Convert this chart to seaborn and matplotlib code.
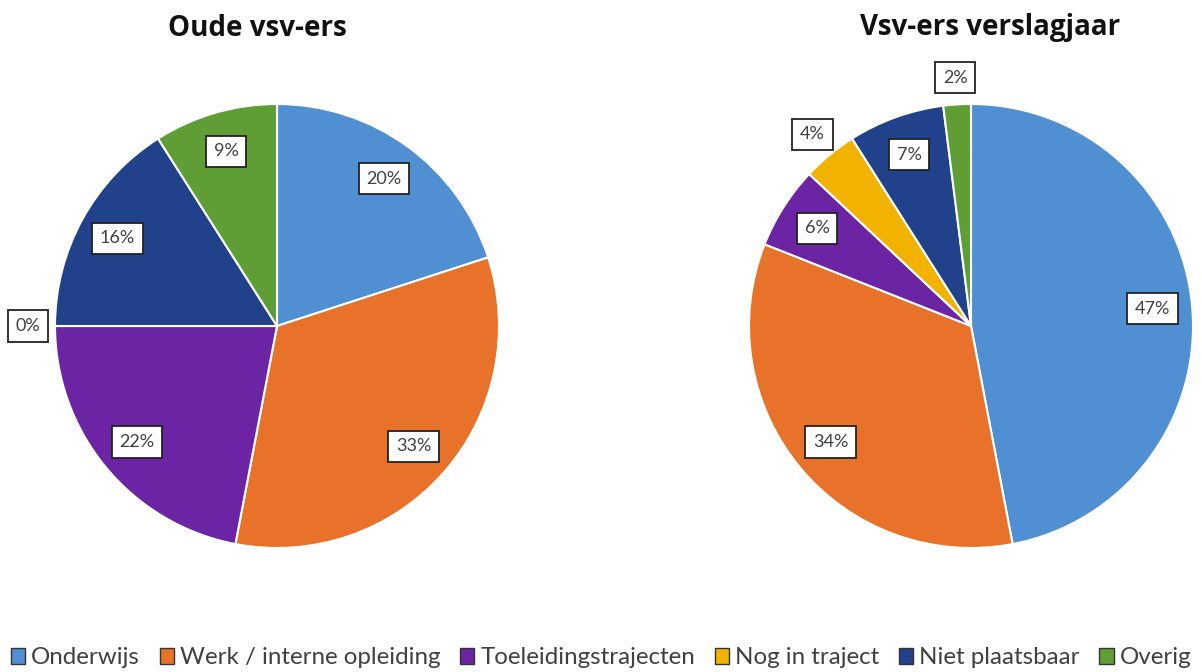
"""
Pie charts: uitstroombestemming oude vsv-ers vs vsv-ers in het verslagjaar.
"""

import matplotlib
matplotlib.use("Agg")
import matplotlib.pyplot as plt
import seaborn as sns
import numpy as np

# Data
categories = ["Onderwijs", "Werk / interne opleiding", "Toeleidingstrajecten",
              "Nog in traject", "Niet plaatsbaar", "Overig"]
oude_vsv = [20, 33, 22, 0, 16, 9]
vsv_verslagjaar = [47, 34, 6, 4, 7, 2]
titles = ["Oude vsv-ers", "Vsv-ers verslagjaar"]

colors = ["#4f8fd2", "#e8722a", "#6b24a3", "#f2b300", "#21428a", "#5e9e35"]

sns.set_theme(style="white")
plt.rcParams["font.family"] = ["Lato", "DejaVu Sans"]

fig = plt.figure(figsize=(12.02, 6.72), dpi=100)

W, H = 1202, 672
R = 222
centers = [(277, 326), (971, 326)]


def draw_pie(ax, values):
    wedges, _, autotexts = ax.pie(
        values, colors=colors, startangle=90, counterclock=False,
        autopct=lambda p: f"{p:.0f}%", pctdistance=0.82,
        wedgeprops=dict(edgecolor="white", linewidth=1.5),
        textprops=dict(color="#404040", fontsize=13),
    )
    for w, t, v in zip(wedges, autotexts, values):
        # small slices get their label outside the pie
        if v < 5:
            ang = np.deg2rad((w.theta1 + w.theta2) / 2)
            r = 1.12
            t.set_position((r * np.cos(ang), r * np.sin(ang)))
        t.set_bbox(dict(boxstyle="square,pad=0.42", facecolor="white",
                        edgecolor="#222222", linewidth=1.3))
    ax.set_xlim(-1, 1)
    ax.set_ylim(-1, 1)
    ax.set_aspect("equal")
    ax.axis("off")
    return wedges


axes = []
for (cx, cy) in centers:
    ax = fig.add_axes([(cx - R) / W, (H - cy - R) / H, 2 * R / W, 2 * R / H])
    axes.append(ax)

draw_pie(axes[0], oude_vsv)
draw_pie(axes[1], vsv_verslagjaar)

fig.text(257 / W, 1 - 28 / H, titles[0], ha="center", va="center",
         fontsize=20, fontweight="bold", family="Open Sans", color="#111111")
fig.text(990 / W, 1 - 28 / H, titles[1], ha="center", va="center",
         fontsize=20, fontweight="bold", family="Open Sans", color="#111111")

handles = [plt.Rectangle((0, 0), 1, 1, facecolor=c, edgecolor="#333333", linewidth=1)
           for c in colors]
fig.legend(handles, categories, loc="center", bbox_to_anchor=(601 / W, 1 - 658 / H),
           ncol=6, frameon=False, fontsize=17.4, handlelength=0.6, handleheight=0.6,
           handletextpad=0.25, columnspacing=0.8, labelcolor="#404040")

fig.savefig("out.png", dpi=100)
